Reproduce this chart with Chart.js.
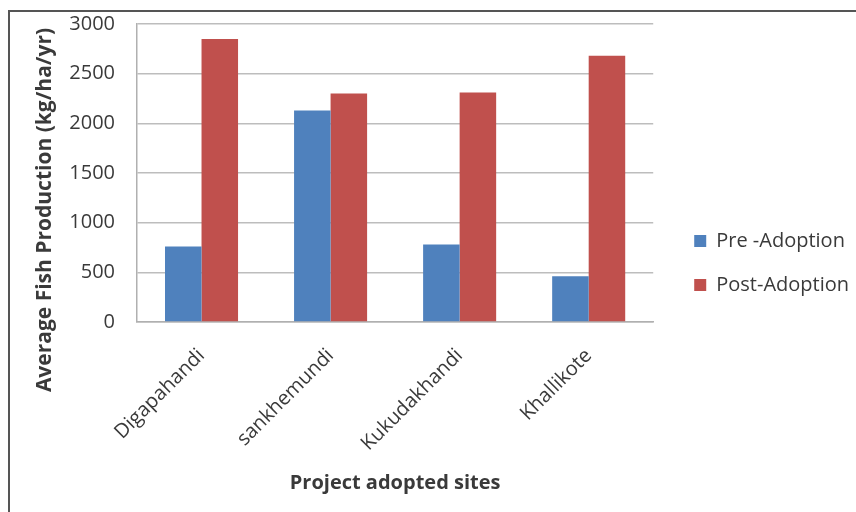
<!DOCTYPE html>
<html>
<head>
<meta charset="utf-8">
<script src="https://cdn.jsdelivr.net/npm/chart.js@4.4.1/dist/chart.umd.min.js"></script>
<style>
  body { margin: 0; background: #fff; overflow: hidden; }
  #frame {
    position: absolute; left: 8px; top: 10px;
    width: 848px; height: 502px;
    border-left: 2px solid #555; border-top: 2px solid #555;
  }
  #chart { position: absolute; left: 0; top: -10px; display: block; }
</style>
</head>
<body>
<div id="frame"></div>
<canvas id="chart" width="856" height="522"></canvas>
<script>
const sites = ['Digapahandi', 'sankhemundi', 'Kukudakhandi', 'Khallikote'];
const preAdoption = [760, 2130, 780, 460];
const postAdoption = [2850, 2300, 2310, 2680];
const yTitle = 'Average Fish Production (kg/ha/yr)';
const xTitle = 'Project adopted sites';

const FONT = "'Open Sans', sans-serif";
const TXT = '#3a3a3a';

// y title drawn by hand so it can sit a bit lower than the plot centre, like the original
const yTitlePlugin = {
  id: 'yTitle',
  afterLayout(chart) {
    // nudge legend away from the plot and a little down
    const lg = chart.legend;
    if (lg) { lg.left += 17; lg.right += 17; lg.top += 12; lg.bottom += 12; }
  },
  afterDraw(chart) {
    const c = chart.ctx;
    c.save();
    c.translate(45, 220);
    c.rotate(-Math.PI / 2);
    c.font = "bold 21px " + FONT;
    c.fillStyle = TXT;
    c.textAlign = 'center';
    c.textBaseline = 'middle';
    c.fillText(yTitle, 0, 0);
    c.restore();
  }
};

const data = {
  labels: sites,
  datasets: [{
    label: 'Pre -Adoption',
    data: preAdoption,
    backgroundColor: '#4F81BD',
    categoryPercentage: 0.566,
    barPercentage: 1.0
  }, {
    label: 'Post-Adoption',
    data: postAdoption,
    backgroundColor: '#C0504D',
    categoryPercentage: 0.566,
    barPercentage: 1.0
  }]
};

const config = {
  type: 'bar',
  data: data,
  options: {
    responsive: false,
    animation: false,
    layout: { padding: { top: 0, right: 14, left: 0, bottom: 0 } },
    plugins: {
      tooltip: { enabled: false },
      legend: {
        position: 'right',
        labels: {
          boxWidth: 12, boxHeight: 12,
          padding: 24,
          color: TXT,
          font: { family: FONT, size: 20 }
        }
      }
    },
    scales: {
      x: {
        afterFit(s) { s.height = 190; },
        grid: { display: false, drawTicks: false },
        border: { color: '#b0b0b0', width: 1.5 },
        ticks: {
          color: TXT, padding: 22,
          maxRotation: 45, minRotation: 45,
          font: { family: FONT, size: 20 }
        },
        title: {
          display: true, text: xTitle, color: TXT,
          font: { family: FONT, size: 20, weight: 'bold' },
          padding: { top: 0, bottom: 17 }
        }
      },
      y: {
        min: 0, max: 3000,
        afterFit(s) { s.width = 137; },
        grid: { color: '#bdbdbd', lineWidth: 1.5, drawTicks: false },
        border: { color: '#b0b0b0', width: 1.5 },
        ticks: {
          stepSize: 500, color: TXT, padding: 22,
          font: { family: FONT, size: 20 },
          callback: v => String(v)
        }
      }
    }
  },
  plugins: [yTitlePlugin]
};

var ctx = document.getElementById('chart');
var myChart = new Chart(ctx, config);
</script>
</body>
</html>
